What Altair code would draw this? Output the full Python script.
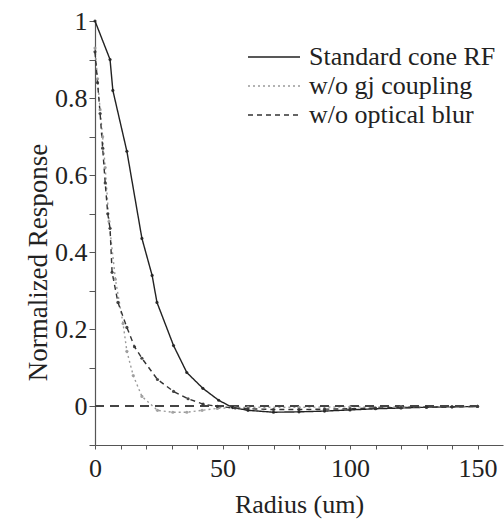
import altair as alt
import pandas as pd

# ---- data ----
series_names = ["Standard cone RF", "w/o gj coupling", "w/o optical blur"]

std_r = [0, 5.9, 7, 12.5, 18.4, 22.4, 24.3, 30.8, 36, 42.3, 48.5, 54, 60, 70, 80, 90, 100, 110, 120, 130, 140, 150]
std_v = [1.0, 0.9, 0.82, 0.662, 0.436, 0.34, 0.27, 0.158, 0.088, 0.047, 0.016, -0.003, -0.01, -0.015, -0.014,
         -0.012, -0.009, -0.006, -0.004, -0.002, -0.001, 0.0]

gj_r = [0, 1, 2, 3, 4, 5.5, 8, 11, 12.5, 15, 18.4, 24.5, 30.5, 36, 42, 48, 55, 60, 80, 100, 120, 150]
gj_v = [0.93, 0.85, 0.77, 0.70, 0.62, 0.48, 0.33, 0.215, 0.143, 0.08, 0.026, -0.01, -0.015, -0.015, -0.01,
        -0.005, -0.003, -0.002, -0.002, -0.001, -0.001, 0.0]

blur_r = [0, 1, 2, 3, 4, 5, 5.9, 6.7, 9, 12.5, 15.5, 18.4, 24.5, 30.8, 36.5, 42.4, 48, 55, 60, 70, 80, 90,
          100, 110, 120, 130, 140, 150]
blur_v = [0.92, 0.84, 0.76, 0.67, 0.58, 0.50, 0.462, 0.348, 0.27, 0.205, 0.155, 0.125, 0.07, 0.039, 0.02,
          0.006, 0.0, -0.004, -0.006, -0.008, -0.008, -0.007, -0.006, -0.004, -0.003, -0.002, -0.001, 0.0]

x_ticks = [0, 10, 20, 30, 40, 50, 60, 70, 80, 90, 100, 110, 120, 130, 140, 150]
y_ticks = [-0.1, 0, 0.1, 0.2, 0.3, 0.4, 0.5, 0.6, 0.7, 0.8, 0.9, 1.0]

rows = []
for name, rs, vs in [(series_names[0], std_r, std_v), (series_names[1], gj_r, gj_v),
                     (series_names[2], blur_r, blur_v)]:
    for r, v in zip(rs, vs):
        rows.append({"series": name, "r": r, "v": v})
df = pd.DataFrame(rows)

FONT = "Liberation Serif"

xs = alt.Scale(domain=[0, 160], nice=False, zero=False)
ys = alt.Scale(domain=[-0.1, 1.0], nice=False, zero=False)

xax = alt.Axis(values=x_ticks, tickCount=40,
               labelExpr="(datum.value % 50 == 0) ? format(datum.value, 'd') : ''",
               title="Radius (um)", grid=False, tickSize=4, labelPadding=6, titlePadding=10,
               labelOverlap=False, labelFlush=False, titleFontSize=26)
yax = alt.Axis(values=y_ticks, tickCount=40,
               labelExpr="(abs(datum.value*5 - round(datum.value*5)) < 0.01 && datum.value > -0.05) ? format(datum.value, '.1~f') : ''",
               title="Normalized Response", grid=False, tickSize=6, labelPadding=2, titlePadding=2,
               labelOverlap=False, labelFlush=False, titleFontSize=27, titleY=241)

leg = alt.Legend(title=None, orient="none", legendX=166, legendY=23,
                 symbolType="M-4,0H4", symbolSize=169, symbolStrokeWidth=1.4,
                 labelFont=FONT, labelFontSize=26, labelColor="#222",
                 labelOffset=22, rowPadding=3, padding=0, labelLimit=400)

color = alt.Color("series:N", scale=alt.Scale(domain=series_names, range=["#222222", "#9a9a9a", "#333333"]),
                  legend=leg)
dash = alt.StrokeDash("series:N", scale=alt.Scale(domain=series_names, range=[[1, 0], [2, 3], [5, 4]]),
                      legend=leg)

lines = alt.Chart(df).mark_line(strokeWidth=1.4).encode(
    x=alt.X("r:Q", scale=xs, axis=xax),
    y=alt.Y("v:Q", scale=ys, axis=yax),
    color=color,
    strokeDash=dash,
    order="r:Q",
)

zero = alt.Chart(df).mark_rule(color="#444", strokeDash=[9, 6], strokeWidth=1.3).encode(
    x=alt.datum(0), x2=alt.datum(150), y=alt.datum(0)
)

pts = alt.Chart(df).mark_point(filled=True, size=10, opacity=0.9).encode(
    x=alt.X("r:Q"),
    y=alt.Y("v:Q"),
    color=alt.Color("series:N", scale=alt.Scale(domain=series_names, range=["#222222", "#9a9a9a", "#333333"]),
                    legend=None),
)

chart = alt.layer(lines, zero, pts).properties(
    width=408, height=424,
    autosize=alt.AutoSizeParams(type="none"),
    padding={"left": 95, "top": 21, "right": 1, "bottom": 76},
    background="white",
).configure_view(stroke=None).configure_axis(
    labelFont=FONT, titleFont=FONT, labelFontSize=26, titleFontSize=24,
    labelColor="#222", titleColor="#222", titleFontWeight="normal",
    domainColor="#555", tickColor="#555", domainWidth=1.2,
)

chart.save("out.html", embed_options={"renderer": "svg", "actions": False})
